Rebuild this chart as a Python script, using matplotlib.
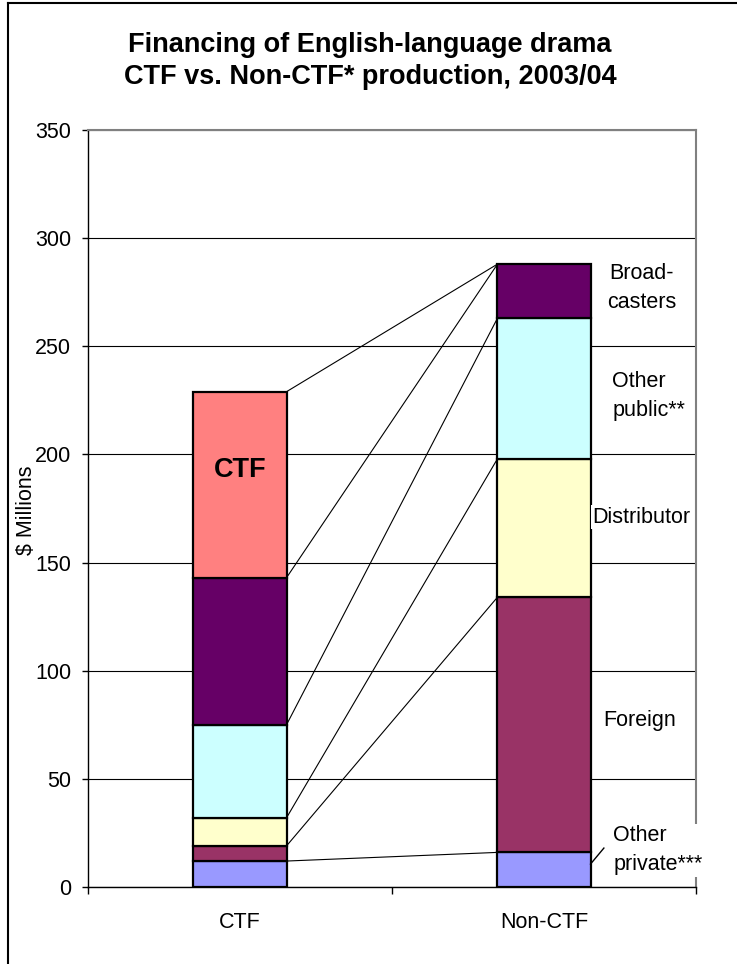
import matplotlib
matplotlib.use("Agg")
import matplotlib.pyplot as plt
from matplotlib.lines import Line2D
import numpy as np

plt.rcParams['font.family'] = ['Liberation Sans', 'DejaVu Sans']

categories = ["CTF", "Non-CTF"]
series_names = ["Other private***", "Foreign", "Distributor", "Other public**", "Broad-\ncasters", "CTF"]
other_private = [12, 16]
foreign = [7, 118]
distributor = [13, 64]
other_public = [43, 65]
broadcasters = [68, 25]
ctf = [86, 0]
yticks = [0, 50, 100, 150, 200, 250, 300, 350]

series = [other_private, foreign, distributor, other_public, broadcasters, ctf]
colors = ["#9999FF", "#993366", "#FFFFCC", "#CCFFFF", "#660066", "#FF8080"]

W, H = 737, 964
fig = plt.figure(figsize=(W / 100, H / 100), dpi=100)
fig.patch.set_facecolor("white")

ax_l, ax_r, ax_t, ax_b = 88, 696, 130, 887
ax = fig.add_axes([ax_l / W, (H - ax_b) / H, (ax_r - ax_l) / W, (ax_b - ax_t) / H])

x = np.arange(len(categories))
width = 0.306
bottom = np.zeros(len(categories))
tops = []
for vals, col in zip(series, colors):
    v = np.array(vals, dtype=float)
    for i in range(len(categories)):
        if v[i] > 0:
            ax.bar(x[i], v[i], width=width, bottom=bottom[i], color=col,
                   edgecolor="black", linewidth=1.6, zorder=3)
    bottom = bottom + v
    tops.append(bottom.copy())

# series lines
for t in tops:
    ax.plot([x[0] + width / 2, x[1] - width / 2], [t[0], t[1]],
            color="black", linewidth=0.8, zorder=2)

ax.set_xlim(-0.5, 1.5)
ax.set_ylim(0, 350)
ax.set_yticks(yticks)
ax.set_yticklabels([str(v) for v in yticks])
ax.yaxis.grid(True, color="black", linewidth=0.8, zorder=0)
ax.set_axisbelow(True)

ax.set_xticks([-0.5, 0.5, 1.5])
ax.set_xticklabels([])
ax.set_xticks(x, minor=True)
ax.set_xticklabels(categories, minor=True)
ax.tick_params(axis="x", which="major", direction="out", length=5, width=1, color="black")
ax.tick_params(axis="x", which="minor", length=0, pad=18, labelsize=15.5)
ax.tick_params(axis="y", direction="out", length=4, width=1, pad=8, labelsize=15.5)

for s in ["top", "right"]:
    ax.spines[s].set_color("#808080")
    ax.spines[s].set_linewidth(1.5)
for s in ["left", "bottom"]:
    ax.spines[s].set_color("black")
    ax.spines[s].set_linewidth(1.0)

# title
fig.text(370 / W, 1 - 61 / H, "Financing of English-language drama\nCTF vs. Non-CTF* production, 2003/04",
         ha="center", va="center", fontsize=19.5, fontweight="bold", linespacing=1.3)

# y label
fig.text(26 / W, 1 - 510 / H, "$ Millions", rotation=90, ha="center", va="center", fontsize=15.5)

# CTF label inside bar
ax.text(x[0], 193, "CTF", ha="center", va="center",
        fontsize=19.5, fontweight="bold", zorder=4)

# right-side labels (positions in data coordinates)
fs = 15.5
ax.text(1.322, 277, "Broad-\ncasters", ha="center", va="center", fontsize=fs, linespacing=1.5, zorder=4)
ax.text(1.225, 227, "Other\npublic**", ha="left", va="center", fontsize=fs, linespacing=1.55, zorder=4)
ax.text(1.319, 171, "Distributor", ha="center", va="center", fontsize=fs, zorder=4,
        bbox=dict(facecolor="white", edgecolor="none", pad=1))
ax.text(1.316, 77, "Foreign", ha="center", va="center", fontsize=fs, zorder=4)
ax.text(1.228, 17, "Other\nprivate***", ha="left", va="center", fontsize=fs, linespacing=1.5, zorder=5,
        bbox=dict(facecolor="white", edgecolor="none", pad=1), clip_on=False)
ax.plot([1 + width / 2, 1.197], [10.6, 18], color="black", linewidth=1.0, zorder=4)

# chart border (left and top visible)
fig.add_artist(Line2D([8 / W, 8 / W], [0, 1 - 3 / H], color="black", linewidth=1.5, transform=fig.transFigure))
fig.add_artist(Line2D([8 / W, 1], [1 - 3 / H, 1 - 3 / H], color="black", linewidth=1.5, transform=fig.transFigure))

fig.savefig("out.png", dpi=100)
